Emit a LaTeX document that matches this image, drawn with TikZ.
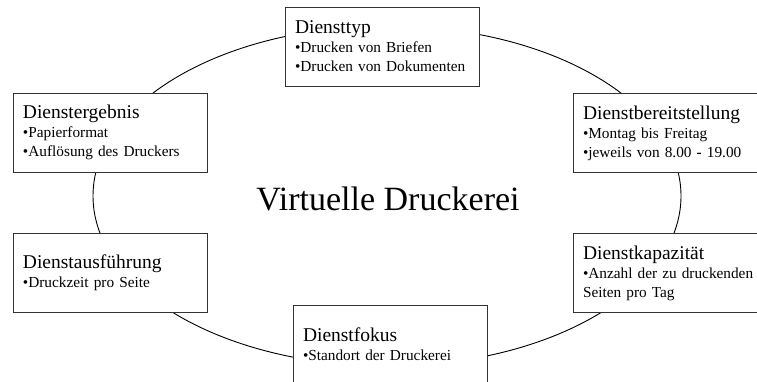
\documentclass[tikz,border=0pt]{standalone}
\usepackage{fontspec}
\setmainfont{Liberation Serif}
\usetikzlibrary{positioning}

\tikzset{
  infobox/.style={
    draw=black!80, line width=0.9pt, fill=white,
    rectangle, minimum width=194pt, minimum height=79pt,
    text width=174pt, inner xsep=10pt, inner ysep=0pt, align=left,
    font=\fontsize{15.3}{19}\selectfont
  },
  ring/.style={draw=black, line width=0.9pt},
  centerlabel/.style={font=\fontsize{34}{37}\selectfont, inner sep=0pt}
}
\newcommand{\boxtitle}[1]{{\fontsize{19.5}{19}\selectfont #1}}

\begin{document}
\begin{tikzpicture}[x=1pt, y=-1pt]
  \clip (0,0) rectangle (757,382);
  \fill[white] (0,0) rectangle (757,382);

  % the ring joining the six service aspects
  \draw[ring] (387,196) ellipse [x radius=294, y radius=170];

  \node[centerlabel, anchor=base] (title) at (388,211) {Virtuelle Druckerei};

  \node[infobox] (typ) at (382,46.5)
    {\boxtitle{Diensttyp}\\ •Drucken von Briefen\\ •Drucken von Dokumenten};
  \node[infobox] (ergebnis) at (110,132.5)
    {\boxtitle{Dienstergebnis}\\ •Papierformat\\ •Auflösung des Druckers};
  \node[infobox] (bereit) at (670,133)
    {\boxtitle{Dienstbereitstellung}\\ •Montag bis Freitag\\ •jeweils von 8.00 \textbf{-} 19.00};
  \node[infobox] (ausf) at (110,272.5)
    {\boxtitle{Dienstausführung}\\ •Druckzeit pro Seite};
  \node[infobox] (kap) at (670,273)
    {\boxtitle{Dienstkapazität}\\ •Anzahl der zu druckenden\\ Seiten pro Tag};
  \node[infobox] (fokus) at (390,344.5)
    {\boxtitle{Dienstfokus}\\ •Standort der Druckerei};
\end{tikzpicture}
\end{document}
